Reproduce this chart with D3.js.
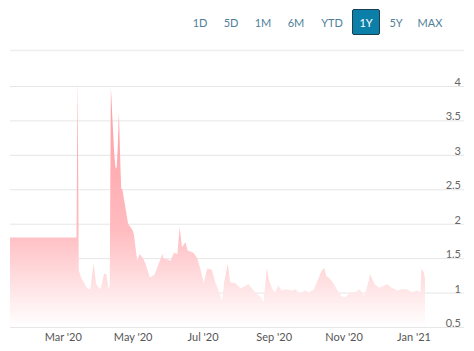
<!DOCTYPE html>
<html>
<head>
<meta charset="utf-8">
<script src="https://cdn.jsdelivr.net/npm/d3@7"></script>
<style>
  html, body { margin: 0; padding: 0; background: #fff; }
  svg { display: block; font-family: Lato, "Open Sans", sans-serif; }
</style>
</head>
<body>
<svg id="chart" width="474" height="351"></svg>
<script>
// ---- data ----
const rangeButtons = ["1D", "5D", "1M", "6M", "YTD", "1Y", "5Y", "MAX"];
const activeButton = "1Y";
const yTicks = [0.5, 1, 1.5, 2, 2.5, 3, 3.5, 4];
const xTickDates = ["2020-03-01", "2020-05-01", "2020-07-01", "2020-09-01", "2020-11-01", "2021-01-01"];
const dates = [
  "2020-01-15","2020-03-13","2020-03-14","2020-03-15","2020-03-17","2020-03-20","2020-03-22",
  "2020-03-25","2020-03-27","2020-03-28","2020-03-30","2020-04-01","2020-04-03","2020-04-06",
  "2020-04-08","2020-04-10","2020-04-11","2020-04-12","2020-04-14","2020-04-15","2020-04-16",
  "2020-04-17","2020-04-18","2020-04-19","2020-04-20","2020-04-21","2020-04-22","2020-04-24",
  "2020-04-26","2020-04-27","2020-04-30","2020-05-01","2020-05-02","2020-05-05","2020-05-07",
  "2020-05-10","2020-05-12","2020-05-16","2020-05-20","2020-05-23","2020-05-27","2020-05-28",
  "2020-06-01","2020-06-03","2020-06-06","2020-06-09","2020-06-11","2020-06-13","2020-06-16",
  "2020-06-18","2020-06-23","2020-06-26","2020-06-29","2020-07-02","2020-07-05","2020-07-09",
  "2020-07-12","2020-07-15","2020-07-18","2020-07-20","2020-07-23","2020-07-25","2020-07-30",
  "2020-08-03","2020-08-10","2020-08-16","2020-08-21","2020-08-23","2020-08-25","2020-08-26",
  "2020-08-28","2020-08-31","2020-09-02","2020-09-05","2020-09-08","2020-09-12","2020-09-17",
  "2020-09-20","2020-09-24","2020-09-28","2020-10-02","2020-10-06","2020-10-10","2020-10-12",
  "2020-10-15","2020-10-17","2020-10-20","2020-10-23","2020-10-26","2020-10-30","2020-11-02",
  "2020-11-07","2020-11-11","2020-11-15","2020-11-19","2020-11-23","2020-11-24","2020-11-28",
  "2020-12-02","2020-12-06","2020-12-09","2020-12-13","2020-12-18","2020-12-22","2020-12-26",
  "2020-12-31","2021-01-04","2021-01-07","2021-01-08","2021-01-10","2021-01-11"
];
const values = [
  1.80,1.80,4.07,1.32,1.22,1.13,1.07,
  1.04,1.30,1.42,1.13,1.08,1.05,1.27,
  1.27,1.05,1.10,3.98,3.30,3.00,2.82,
  2.80,3.10,3.62,3.00,2.51,2.50,2.30,
  2.10,2.00,1.93,1.90,1.85,1.46,1.56,
  1.50,1.43,1.22,1.26,1.39,1.56,1.49,
  1.48,1.46,1.58,1.56,1.95,1.66,1.73,
  1.61,1.58,1.51,1.35,1.14,1.35,1.33,
  1.15,1.03,0.88,1.17,1.42,1.15,1.13,
  1.06,1.12,1.00,0.93,0.86,1.17,1.36,
  1.17,1.05,1.00,1.10,1.03,1.05,1.03,
  1.05,0.98,1.03,1.00,1.05,1.20,1.29,
  1.36,1.24,1.20,1.14,1.05,0.95,0.93,
  1.00,1.00,1.05,0.95,1.17,1.27,1.12,
  1.07,1.10,1.12,1.07,1.03,1.05,1.05,
  1.00,1.03,1.00,1.35,1.29,1.20
];

// ---- layout ----
const svg = d3.select("#chart");
const parse = d3.utcParse("%Y-%m-%d");
const data = dates.map((d, i) => ({ date: parse(d), value: values[i] }));

const x = d3.scaleUtc()
  .domain([parse("2020-01-15"), parse("2021-01-11")])
  .range([10, 425]);
const y = d3.scaleLinear().domain([0.5, 4]).range([327, 86]);
const gridLeft = 10, gridRight = 464;

// header buttons
const btnCenters = [200, 231, 263, 296, 332, 366, 396, 430];
const hdr = svg.append("g");
rangeButtons.forEach((b, i) => {
  const cx = btnCenters[i];
  if (b === activeButton) {
    hdr.append("rect").attr("x", cx - 13.5).attr("y", 9.5).attr("width", 27).attr("height", 25)
      .attr("rx", 1.5).attr("fill", "#0c7fa8").attr("stroke", "#1c3f4f").attr("stroke-width", 1);
  }
  hdr.append("text").attr("x", cx).attr("y", 27).attr("text-anchor", "middle")
    .attr("font-size", 11).attr("fill", b === activeButton ? "#ffffff" : "#4f7f99")
    .text(b);
});
svg.append("line").attr("x1", gridLeft).attr("x2", gridRight).attr("y1", 50.5).attr("y2", 50.5)
  .attr("stroke", "#eeeeee").attr("stroke-width", 1.5);

// gradient
const defs = svg.append("defs");
const grad = defs.append("linearGradient").attr("id", "fillGrad")
  .attr("gradientUnits", "userSpaceOnUse").attr("x1", 0).attr("x2", 0)
  .attr("y1", y(4)).attr("y2", y(0.5));
grad.append("stop").attr("offset", "0%").attr("stop-color", "#ff9aa1");
grad.append("stop").attr("offset", "60%").attr("stop-color", "#ffbcc0");
grad.append("stop").attr("offset", "100%").attr("stop-color", "#ffffff");

// gridlines
const yAxis = d3.axisRight(y).tickValues(yTicks).tickSize(gridRight - gridLeft)
  .tickFormat(d3.format(""));
const gy = svg.append("g").attr("transform", `translate(${gridLeft},0)`).call(yAxis);
gy.select(".domain").remove();
gy.selectAll(".tick line").attr("stroke", "#e6e6e6").attr("stroke-width", 1);
gy.selectAll(".tick text")
  .attr("x", gridRight - gridLeft - 3).attr("dy", -0.5).attr("text-anchor", "end")
  .attr("font-size", 11).attr("fill", "#666666").attr("font-family", "Lato, 'Open Sans', sans-serif");

// area
const area = d3.area().x(d => x(d.date)).y0(y(0.5)).y1(d => y(d.value)).curve(d3.curveLinear);
svg.append("path").datum(data).attr("d", area).attr("fill", "url(#fillGrad)");

// x axis
const xAxis = d3.axisBottom(x).tickValues(xTickDates.map(parse)).tickSize(0)
  .tickFormat(d3.utcFormat("%b '%y"));
const gx = svg.append("g").attr("transform", "translate(0,328)").call(xAxis);
gx.select(".domain").remove();
gx.selectAll(".tick text").attr("font-size", 11).attr("fill", "#555555").attr("dy", 10)
  .attr("font-family", "Lato, 'Open Sans', sans-serif");
</script>
</body>
</html>
